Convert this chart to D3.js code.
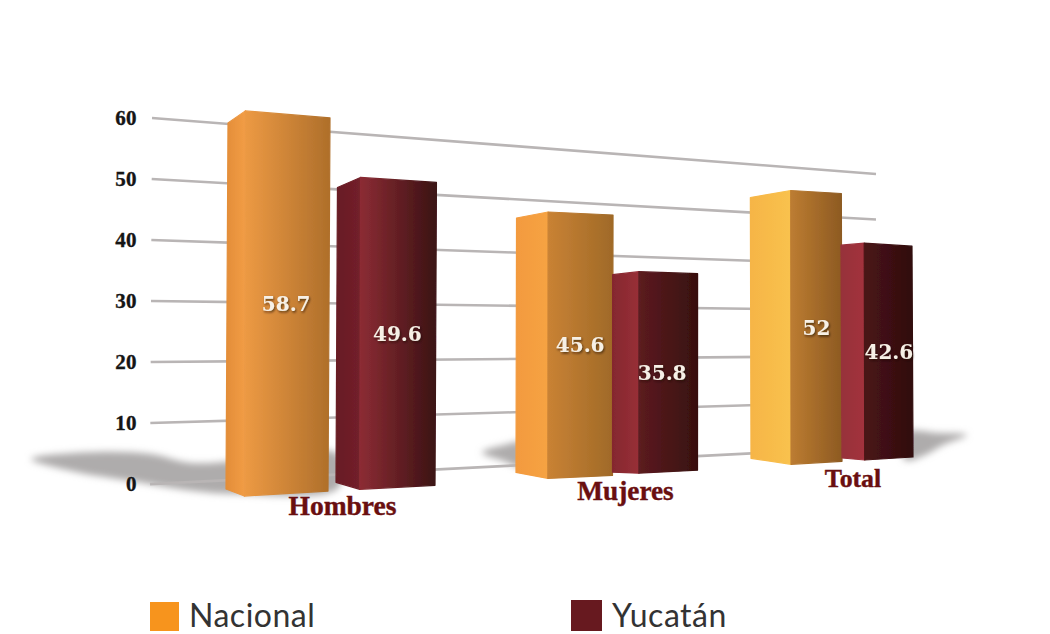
<!DOCTYPE html>
<html><head><meta charset="utf-8">
<script src="https://cdn.jsdelivr.net/npm/d3@7"></script>
<style>html,body{margin:0;padding:0;background:#fff;overflow:hidden}svg{display:block}</style>
</head><body><svg id="c" width="1050" height="634"></svg>
<script>
// ---- data ----
const categories = ["Hombres", "Mujeres", "Total"];
const seriesNames = ["Nacional", "Yucatán"];
const nacional = [58.7, 45.6, 52];
const yucatan = [49.6, 35.8, 42.6];
const valueLabels = [["58.7", "45.6", "52"], ["49.6", "35.8", "42.6"]];
const axisTicks = [0, 10, 20, 30, 40, 50, 60];
const seriesValues = [nacional, yucatan];

// ---- perspective scales ----
const yAxisScale = d3.scaleLinear().domain([0, 60]).range([484, 118]);
const barBase = d3.scaleLinear().domain([245, 865]).range([496, 460]);
const barUnit = d3.scaleLinear().domain([245, 865]).range([6.56, 5.09]);
const gridBase = d3.scaleLinear().domain([152, 876]).range([484, 447]);
const gridUnit = d3.scaleLinear().domain([152, 876]).range([6.1, 4.55]);
const lean = d3.scaleLinear().domain([245, 865]).range([2, -1]);
const groupStart = d3.scaleOrdinal().domain(categories).range([226, 516, 751]);
const seriesGap = d3.scaleOrdinal().domain(categories).range([8, 0, 0]);
const widthScale = [
  d3.scaleLinear().domain([0, 2]).range([102, 91]),
  d3.scaleLinear().domain([0, 2]).range([99, 71])
];
const foldScale = [
  d3.scaleOrdinal().domain(categories).range([.18, .33, .44]),
  d3.scaleOrdinal().domain(categories).range([.24, .31, .32])
];
const dropTopLeft = [
  d3.scaleOrdinal().domain(categories).range([12, 6, 7]),
  d3.scaleOrdinal().domain(categories).range([10, 3, 2])
];
const dropTopRight = [
  d3.scaleOrdinal().domain(categories).range([7, 3, 3]),
  d3.scaleOrdinal().domain(categories).range([5, 2, 3])
];
const riseBotLeft = [
  d3.scaleOrdinal().domain(categories).range([7, 6, 6]),
  d3.scaleOrdinal().domain(categories).range([7, 1, 2])
];
const riseBotRight = [
  d3.scaleOrdinal().domain(categories).range([5, 3, 3]),
  d3.scaleOrdinal().domain(categories).range([4, 3, 3])
];
// face colours: [left face start, left face end, right face start, right face end]
const faceColors = [
  [["#e38d38","#f19c45","#ed9a44","#b0702b"],["#f39a3e","#f6a343","#c98234","#a06a28"],["#f6b546","#f9c24e","#bc7c31","#8d5a22"]],
  [["#681c24","#72202a","#8c2c34","#3c1214"],["#85282f","#982f37","#5c1b20","#38100f"],["#97303a","#a3333c","#4a1416","#300c0e"]]
];
const legendColors = ["#f7941d", "#67191f"];

const svg = d3.select("#c");
const defs = svg.append("defs");
defs.append("filter").attr("id","soft").attr("x","-30%").attr("y","-80%").attr("width","160%").attr("height","260%")
  .append("feGaussianBlur").attr("stdDeviation",3.5);
defs.append("filter").attr("id","edge").append("feGaussianBlur").attr("stdDeviation",0.55);
defs.append("filter").attr("id","gridBlur").attr("filterUnits","userSpaceOnUse")
  .attr("x",0).attr("y",0).attr("width",1050).attr("height",634)
  .append("feGaussianBlur").attr("stdDeviation",0.5);
const ts = defs.append("filter").attr("id","ts").attr("x","-20%").attr("y","-30%").attr("width","140%").attr("height","160%");
ts.append("feDropShadow").attr("dx",1).attr("dy",1.5).attr("stdDeviation",1).attr("flood-color","#1a0a05").attr("flood-opacity",.65);

// build bars
const bars = [];
categories.forEach((c, g) => {
  seriesValues.forEach((vals, s) => {
    const w = widthScale[s](g);
    const left = s === 0 ? groupStart(c) : groupStart(c) + widthScale[0](g) + seriesGap(c);
    const fold = left + foldScale[s](c) * w, right = left + w;
    const b = barBase(fold), top = b - barUnit(fold) * vals[g], l = lean(fold);
    bars.push({c, g, s, v: vals[g], label: valueLabels[s][g], left, fold, right, b, top, l});
  });
});

// ground shadows, as offsets from the bar they fall from
const shadowShapes = [
  {bar: 0, pts: [[112,-42],[40,-38],[-35,-33],[-75,-42],[-130,-44],[-195,-37],[-150,-24],[-95,-15],[-40,-6],[10,-2],[112,-8]]},
  {bar: 2, pts: [[10,-36],[-14,-33],[-34,-26],[-14,-18],[10,-11]]},
  {bar: 5, pts: [[-8,-27],[25,-27],[54,-25],[30,-15],[12,-5],[-8,0]]}
];
const shadowLine = d3.line().curve(d3.curveCatmullRomClosed.alpha(.5));
svg.append("g").selectAll("path").data(shadowShapes).join("path")
  .attr("d", d => {
    const B = bars[d.bar];
    const ax = d.bar === 5 ? B.right : B.left;
    return shadowLine(d.pts.map(p => [ax + p[0], B.b + p[1]]));
  })
  .attr("fill", "#aeacac").attr("filter", "url(#soft)");

// gridlines
const gridLeft = d3.scaleLinear().domain([0, 60]).range([150, 152]);
const gridRight = 876;
svg.append("g").attr("filter", "url(#gridBlur)").selectAll("line").data(axisTicks).join("line")
  .attr("x1", d => gridLeft(d))
  .attr("x2", gridRight)
  .attr("y1", d => gridBase(gridLeft(d)) - gridUnit(gridLeft(d)) * d)
  .attr("y2", d => gridBase(gridRight) - gridUnit(gridRight) * d)
  .attr("stroke", "#b9b5b5").attr("stroke-width", 2.6);

// y axis labels
const axis = d3.axisLeft(yAxisScale).tickValues(axisTicks).tickSize(0).tickPadding(10);
const ag = svg.append("g").attr("transform", "translate(147,0)").call(axis);
ag.select(".domain").remove();
ag.selectAll("text").attr("font-family", "'Liberation Serif',serif").attr("font-weight", 700)
  .attr("font-size", 21).attr("letter-spacing", .4).attr("fill", "#151515")
  .attr("stroke", "#151515").attr("stroke-width", .35);

// bars
const poly = d3.line();
const barG = svg.append("g").attr("filter", "url(#edge)");
bars.forEach((d, i) => {
  const col = faceColors[d.s][d.g], c = d.c, s = d.s;
  const mk = (id, x1, x2, a, b) => {
    const gr = defs.append("linearGradient").attr("id", id).attr("gradientUnits", "userSpaceOnUse")
      .attr("x1", x1).attr("x2", x2).attr("y1", 0).attr("y2", 0);
    gr.append("stop").attr("offset", 0).attr("stop-color", a);
    gr.append("stop").attr("offset", 1).attr("stop-color", b);
  };
  mk("fl" + i, d.left, d.fold, col[0], col[1]);
  mk("fr" + i, d.fold, d.right, col[2], col[3]);
  const tl = [d.left + d.l, d.top + dropTopLeft[s](c)], tf = [d.fold + d.l * .5, d.top],
        tr = [d.right + d.l, d.top + dropTopRight[s](c)],
        bl = [d.left, d.b - riseBotLeft[s](c)], bf = [d.fold, d.b], br = [d.right, d.b - riseBotRight[s](c)];
  barG.append("path").attr("d", poly([tl, tf, bf, bl]) + "Z").attr("fill", `url(#fl${i})`)
    .attr("stroke", `url(#fl${i})`).attr("stroke-width", 1.2).attr("stroke-linejoin", "round");
  barG.append("path").attr("d", poly([tf, tr, br, bf]) + "Z").attr("fill", `url(#fr${i})`)
    .attr("stroke", `url(#fr${i})`).attr("stroke-width", 1.2).attr("stroke-linejoin", "round");
});

// value labels (middle of the right face, half way up)
svg.append("g").selectAll("text").data(bars).join("text")
  .attr("x", d => (d.fold + d.right) / 2 + (d.s === 1 && d.g === 1 ? -6 : 0))
  .attr("y", d => (d.top + d.b) / 2)
  .attr("dy", "0.36em").attr("text-anchor", "middle")
  .attr("font-family", "'DejaVu Serif',serif").attr("font-size", 20).attr("font-weight", 700)
  .attr("fill", "#f6f0e6").attr("filter", "url(#ts)")
  .text(d => d.label);

// category labels
const catX = d3.scaleOrdinal().domain(categories).range([342.5, 625.5, 853]);
const catY = d3.scaleOrdinal().domain(categories).range([515, 500, 487]);
const catSize = d3.scaleOrdinal().domain(categories).range([27.5, 27.3, 25.8]);
svg.append("g").selectAll("text").data(categories).join("text")
  .attr("x", d => catX(d)).attr("y", d => catY(d)).attr("text-anchor", "middle")
  .attr("font-family", "'Liberation Serif',serif").attr("font-weight", 700)
  .attr("font-size", d => catSize(d)).attr("fill", "#6a0f10")
  .attr("stroke", "#6a0f10").attr("stroke-width", .4)
  .text(d => d);

// legend
const legX = d3.scaleOrdinal().domain(seriesNames).range([150, 571]);
const legY = d3.scaleOrdinal().domain(seriesNames).range([602, 600]);
const legW = d3.scaleOrdinal().domain(seriesNames).range([29, 31]);
const leg = svg.append("g").selectAll("g").data(seriesNames).join("g");
leg.append("rect").attr("x", d => legX(d)).attr("y", d => legY(d))
  .attr("width", d => legW(d)).attr("height", d => legW(d))
  .attr("fill", (d, i) => legendColors[i]);
leg.append("text").attr("x", d => legX(d) + legW(d) + 10).attr("y", 627)
  .attr("font-family", "Lato,'Open Sans',sans-serif").attr("font-weight", 400)
  .attr("font-size", 32).attr("letter-spacing", .5).attr("fill", "#333")
  .text(d => d);
</script></body></html>
